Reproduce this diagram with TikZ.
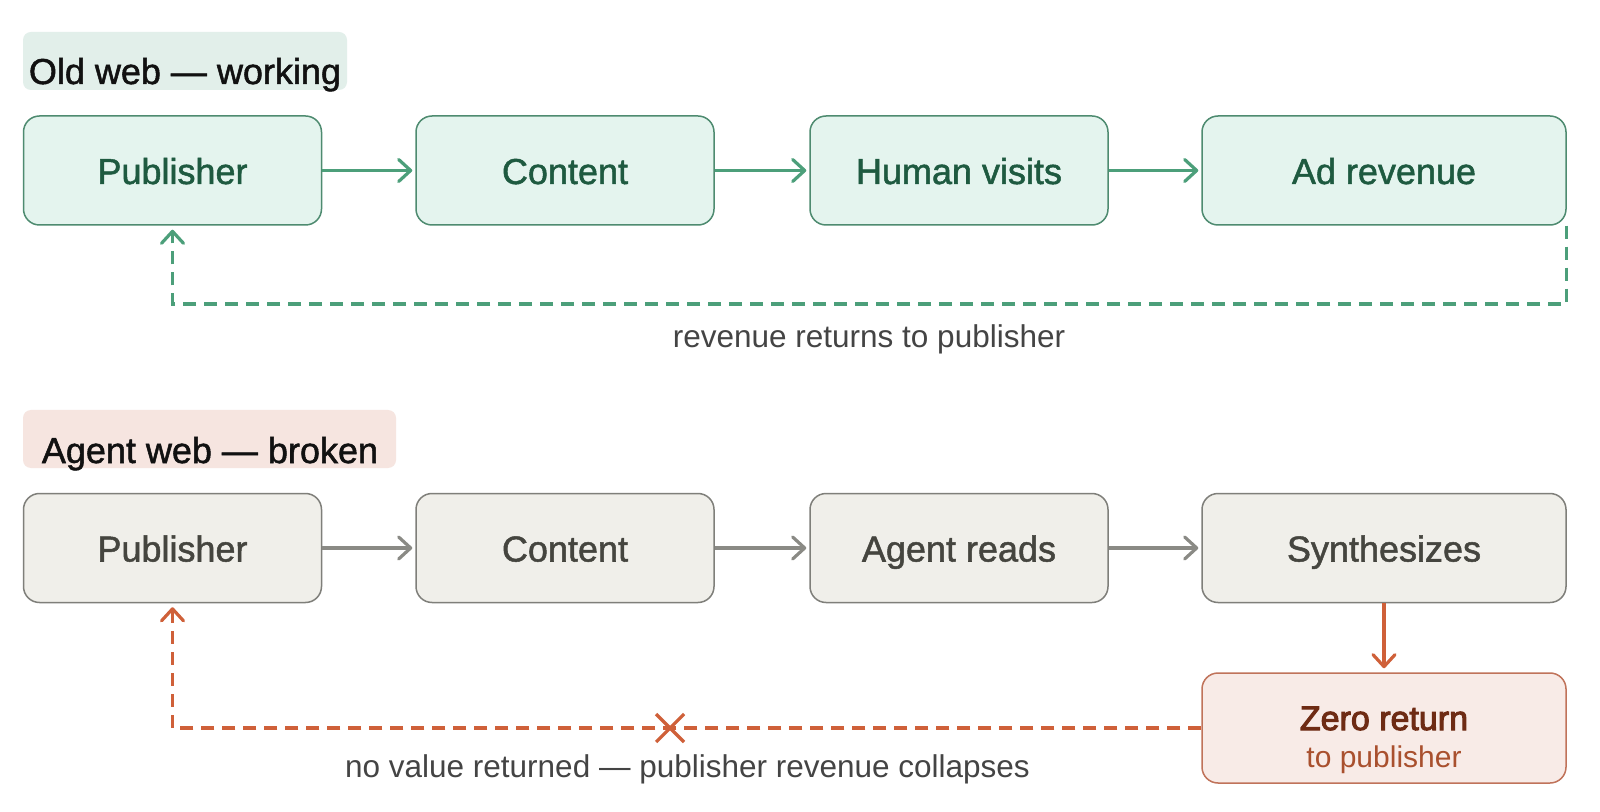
\documentclass[tikz,border=0pt]{standalone}
\usepackage{fontspec}
\setmainfont{Liberation Sans}
\newfontfamily\medfont[FakeBold=1.4]{Liberation Sans}
\newfontfamily\semifont[FakeBold=3]{Liberation Sans}
\usetikzlibrary{arrows.meta,calc}
\definecolor{gFill}{HTML}{E4F4EE}
\definecolor{gTitle}{HTML}{E2EFEA}
\definecolor{gBorder}{HTML}{4E8B70}
\definecolor{gText}{HTML}{1E5A40}
\definecolor{gArrow}{HTML}{4C9F7A}
\definecolor{nFill}{HTML}{F0EFEA}
\definecolor{nBorder}{HTML}{7F7F7A}
\definecolor{nText}{HTML}{45453F}
\definecolor{nArrow}{HTML}{8A8A85}
\definecolor{rTitle}{HTML}{F6E5E0}
\definecolor{rFill}{HTML}{F8EBE7}
\definecolor{rBorder}{HTML}{C0735A}
\definecolor{rText}{HTML}{6E2B14}
\definecolor{rSub}{HTML}{A9502E}
\definecolor{rArrow}{HTML}{CF6039}
\definecolor{labelText}{HTML}{444444}
\definecolor{titleText}{HTML}{111111}
\begin{document}
\begin{tikzpicture}[x=0.5pt,y=-0.5pt,
  flowbox/.style={draw, rounded corners=8pt, minimum width=149pt, minimum height=54.5pt,
    line width=0.75pt, inner sep=0pt, text height=17pt, text depth=3.5pt,
    font=\medfont\fontsize{18}{21}\selectfont},
  gbox/.style={flowbox, fill=gFill, draw=gBorder, text=gText},
  nbox/.style={flowbox, fill=nFill, draw=nBorder, text=nText},
  titlebox/.style={rounded corners=4pt, minimum height=29pt, inner sep=0pt},
  titletext/.style={anchor=base, inner sep=0pt, text=titleText, font=\medfont\fontsize{18}{21}\selectfont},
  lbl/.style={anchor=base, inner sep=0pt, text=labelText, font=\fontsize{15.75}{18}\selectfont},
  tipbarb/.style={-{Straight Barb[length=6pt,width=11pt,round]}},
  garr/.style={draw=gArrow, line width=1.6pt, tipbarb, shorten >=1.5pt},
  narr/.style={draw=nArrow, line width=1.6pt, tipbarb, shorten >=1.5pt},
  rarr/.style={draw=rArrow, line width=1.6pt, tipbarb, shorten >=2pt},
  gdash/.style={draw=gArrow, line width=1.6pt, dash pattern=on 6.5pt off 4pt, tipbarb, shorten >=2pt},
  rdash/.style={draw=rArrow, line width=1.6pt, dash pattern=on 6.5pt off 4pt, tipbarb, shorten >=2pt},
]
\useasboundingbox[fill=white] (0,0) rectangle (1600,812);

% ---- Old web ----
\node[titlebox, fill=gTitle, minimum width=162pt] (t1box) at (185,61) {};
\node[titletext] (t1) at (185,84) {Old web — working};

\node[gbox] (p1) at (172.5,170.5) {Publisher};
\node[gbox] (c1) at (565,170.5) {Content};
\node[gbox] (h1) at (959,170.5) {Human visits};
\node[gbox, minimum width=182pt] (a1) at (1384,170.5) {Ad revenue};

\draw[garr] (p1) -- (c1);
\draw[garr] (c1) -- (h1);
\draw[garr] (h1) -- (a1);

\coordinate (g1) at (a1.south east |- 0,304);
\coordinate (g2) at (p1.south |- 0,304);
\draw[gdash] (a1.south east) -- (g1) -- (g2) -- (p1.south);
\node[lbl] (l1) at (869,348) {revenue returns to publisher};

% ---- Agent web ----
\node[titlebox, fill=rTitle, minimum width=186.5pt] (t2box) at (209.5,439) {};
\node[titletext] (t2) at (210,463) {Agent web — broken};

\node[nbox] (p2) at (172.5,548) {Publisher};
\node[nbox] (c2) at (565,548) {Content};
\node[nbox] (ar2) at (959,548) {Agent reads};
\node[nbox, minimum width=182pt] (s2) at (1384,548) {Synthesizes};

\draw[narr] (p2) -- (c2);
\draw[narr] (c2) -- (ar2);
\draw[narr] (ar2) -- (s2);

\node[flowbox, minimum width=182pt, minimum height=55pt, fill=rFill, draw=rBorder] (z) at (1384,728) {};
\node[anchor=base, inner sep=0pt, text=rText, font=\semifont\fontsize{17}{20}\selectfont] (zt) at (1384,730) {Zero return};
\node[anchor=base, inner sep=0pt, text=rSub, font=\fontsize{15}{18}\selectfont] (zs) at (1384,767) {to publisher};

\draw[rarr] (s2) -- (z);

\coordinate (r1) at (p2.south |- z.west);
\draw[rdash] (z.west) -- (r1) -- (p2.south);
\coordinate (xc) at (670,728);
\draw[draw=rArrow, line width=1.6pt] ($(xc)+(-14,-14)$) -- ($(xc)+(14,14)$);
\draw[draw=rArrow, line width=1.6pt] ($(xc)+(-14,14)$) -- ($(xc)+(14,-14)$);
\node[lbl] (l2) at (687.5,777) {no value returned — publisher revenue collapses};
\end{tikzpicture}
\end{document}
